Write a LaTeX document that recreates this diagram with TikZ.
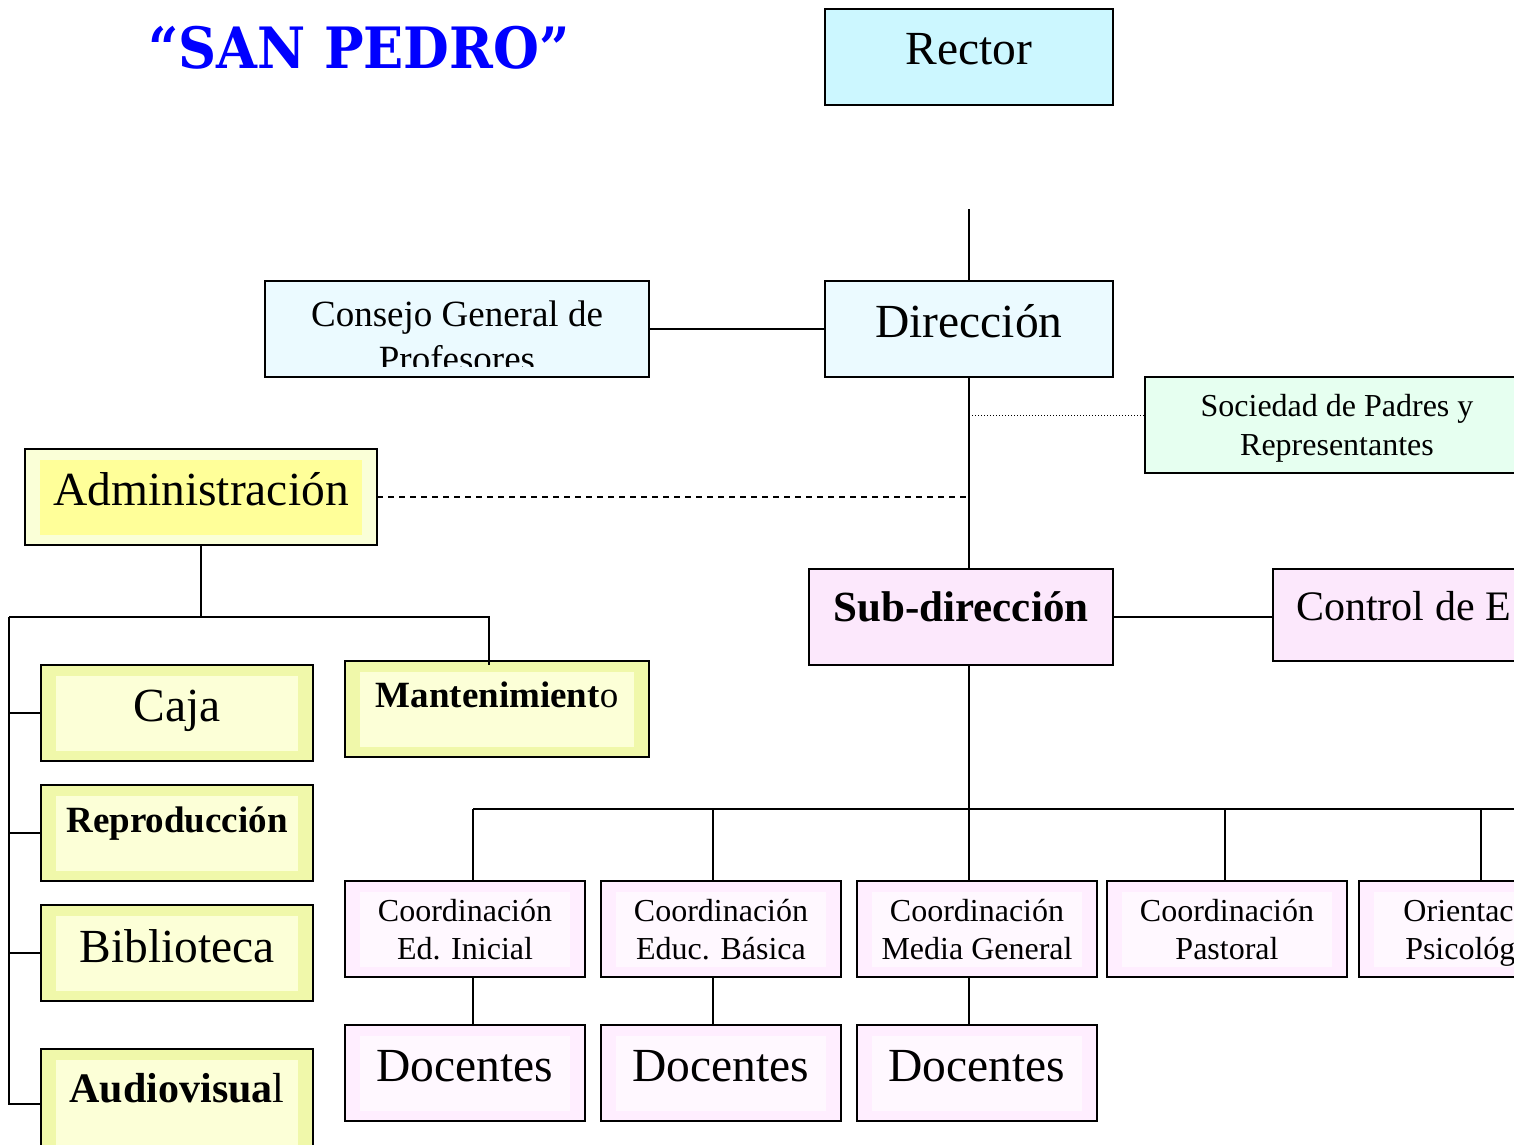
\documentclass[tikz,border=0pt]{standalone}
\usepackage{fontspec}
\setmainfont{Liberation Serif}
\newfontfamily\titlefont{DejaVu Serif}
\usetikzlibrary{calc}
\newcommand\fsz[1]{\fontsize{#1}{#1}\selectfont}
\definecolor{rectorc}{RGB}{204,247,255}
\definecolor{dirc}{RGB}{235,250,255}
\definecolor{socc}{RGB}{230,255,240}
\definecolor{subc}{RGB}{252,232,252}
\definecolor{coordo}{RGB}{255,238,255}
\definecolor{coordi}{RGB}{255,248,255}
\definecolor{admo}{RGB}{250,255,215}
\definecolor{admi}{RGB}{255,255,153}
\definecolor{yelo}{RGB}{240,248,170}
\definecolor{yeli}{RGB}{252,255,215}
\definecolor{titleblue}{RGB}{0,0,255}
\begin{document}
\begin{tikzpicture}[x=1pt,y=-1pt,
  box/.style={draw=black, line width=1.8pt, inner sep=0pt, outer sep=0pt, anchor=north west},
  inset/.style={path picture={\fill[#1] ([shift={(15pt,-11pt)}]path picture bounding box.north west) rectangle ([shift={(-15pt,10pt)}]path picture bounding box.south east);}},
  txt/.style={anchor=base, inner sep=0pt},
  conn/.style={draw=black, line width=1.8pt},
  wide/.style={minimum width=288pt, minimum height=96pt},
  ybox/.style={box, fill=yelo, inset=yeli, minimum width=272pt, minimum height=96pt},
  cbox/.style={box, fill=coordo, inset=coordi, minimum width=240pt, minimum height=96pt}
]
\useasboundingbox (0,0) rectangle (1514,1144);
\clip (0,0) rectangle (1514,1144);
\fill[white] (0,0) rectangle (1514,1144);

% title
\node[txt, text=titleblue, font=\titlefont\bfseries\fsz{57}] (title) at (359,68) {\scalebox{0.925}[1]{“SAN PEDRO”}};

% boxes
\node[box, wide, fill=rectorc] (rector) at (825,9) {};
\node[txt, font=\fsz{47.5}] (rector-t) at (969,64) {Rector};

\node[box, wide, fill=dirc] (dir) at (825,281) {};
\node[txt, font=\fsz{47.5}] (dir-t) at (969,337) {Dirección};

\node[box, fill=dirc, minimum width=384pt, minimum height=96pt] (cons) at (265,281) {};
\begin{scope}
  \clip (265,281) rectangle (649,366);
  \node[txt, font=\fsz{37}] (cons-t1) at (457,326) {Consejo General de};
  \node[txt, font=\fsz{37}] (cons-t2) at (457,371) {Profesores};
\end{scope}

\node[box, fill=socc, minimum width=384pt, minimum height=96pt] (soc) at (1145,377) {};
\node[txt, font=\fsz{32}] (soc-t1) at (1337,416) {Sociedad de Padres y};
\node[txt, font=\fsz{32}] (soc-t2) at (1337,455) {Representantes};

\node[box, fill=admo, inset=admi, minimum width=352pt, minimum height=96pt] (adm) at (25,449) {};
\node[txt, font=\fsz{47.5}] (adm-t) at (201,505) {Administración};

\node[box, fill=subc, minimum width=304pt, minimum height=96pt] (sub) at (809,569) {};
\node[txt, font=\bfseries\fsz{43}] (sub-t) at (961,621) {Sub-dirección};

\node[box, fill=subc, minimum width=304pt, minimum height=92pt] (ctl) at (1273,569) {};
\node[txt, anchor=base west, font=\fsz{42}] (ctl-t) at (1296,620) {Control de E};

% administration branch
\node[ybox] (caja) at (41,665) {};
\node[txt, font=\fsz{47.5}] (caja-t) at (177,721) {Caja};
\node[ybox] (repro) at (41,785) {};
\node[txt, font=\bfseries\fsz{37}] (repro-t) at (177,832) {Reproducción};
\node[ybox] (bib) at (41,905) {};
\node[txt, font=\fsz{47.5}] (bib-t) at (177,962) {Biblioteca};
\node[ybox, minimum height=110pt] (audio) at (41,1049) {};
\node[txt, font=\fsz{42}] (audio-t) at (177,1102) {\textbf{Audiovisua}l};
\node[ybox, minimum width=304pt] (mant) at (345,661) {};
\node[txt, font=\fsz{37}] (mant-t) at (497,707) {\textbf{Mantenimient}o};

% coordination boxes
\node[cbox] (c1) at (345,881) {};
\node[cbox] (c2) at (601,881) {};
\node[cbox] (c3) at (857,881) {};
\node[cbox] (c4) at (1107,881) {};
\node[cbox] (c5) at (1359,881) {};
\node[txt, font=\fsz{32}] (c1-a) at (465,921) {Coordinación};
\node[txt, font=\fsz{32}] (c1-b) at (465,959) {Ed. Inicial};
\node[txt, font=\fsz{32}] (c2-a) at (721,921) {Coordinación};
\node[txt, font=\fsz{32}] (c2-b) at (721,959) {Educ. Básica};
\node[txt, font=\fsz{32}] (c3-a) at (977,921) {Coordinación};
\node[txt, font=\fsz{32}] (c3-b) at (977,959) {Media General};
\node[txt, font=\fsz{32}] (c4-a) at (1227,921) {Coordinación};
\node[txt, font=\fsz{32}] (c4-b) at (1227,959) {Pastoral};
\node[txt, font=\fsz{32}] (c5-a) at (1479,921) {Orientación};
\node[txt, font=\fsz{32}] (c5-b) at (1479,959) {Psicológica};

\node[cbox] (d1) at (345,1025) {};
\node[cbox] (d2) at (601,1025) {};
\node[cbox] (d3) at (857,1025) {};
\node[txt, font=\fsz{47.5}] (d1-t) at (465,1081) {Docentes};
\node[txt, font=\fsz{47.5}] (d2-t) at (721,1081) {Docentes};
\node[txt, font=\fsz{47.5}] (d3-t) at (977,1081) {Docentes};

% connector coordinates
\coordinate (topstub) at (969,209);
\coordinate (dotj) at (969,415);
\coordinate (dashj) at (969,497);
\coordinate (subbot) at (969,665);
\coordinate (bus) at (969,809);
\coordinate (busend) at (1520,809);
\coordinate (admj) at (201,617);
\coordinate (leftj) at (9,617);
\coordinate (mantj) at (489,617);
\coordinate (x1) at (473,0);
\coordinate (x2) at (713,0);
\coordinate (x3) at (969,0);
\coordinate (x4) at (1225,0);
\coordinate (x5) at (1481,0);

% connectors
\draw[conn] (topstub) -- (topstub |- dir.north);
\draw[conn] (cons.east) -- (dir.west);
\draw[conn] (dir.south -| topstub) -- (topstub |- sub.north);
\draw[black, line width=1pt, dotted] (dotj) -- (dotj -| soc.west);
\draw[black, line width=1.4pt, dash pattern=on 6pt off 5pt] (adm.east) -- (dashj);
\draw[conn] (sub.east) -- (sub.east -| ctl.west);

\draw[conn] (adm.south) -- (admj);
\draw[conn] (leftj) -- (mantj) -- ([yshift=-4pt]mantj |- mant.north);
\draw[conn] (leftj) -- (leftj |- audio.west) -- (audio.west);
\draw[conn] (leftj |- caja.west) -- (caja.west);
\draw[conn] (leftj |- repro.west) -- (repro.west);
\draw[conn] (leftj |- bib.west) -- (bib.west);

\draw[conn] (subbot) -- (bus);
\draw[conn] (bus -| x1) -- (busend);
\draw[conn] (bus -| x1) -- (x1 |- c1.north);
\draw[conn] (bus -| x2) -- (x2 |- c2.north);
\draw[conn] (bus) -- (x3 |- c3.north);
\draw[conn] (bus -| x4) -- (x4 |- c4.north);
\draw[conn] (bus -| x5) -- (x5 |- c5.north);
\draw[conn] (x1 |- c1.south) -- (x1 |- d1.north);
\draw[conn] (x2 |- c2.south) -- (x2 |- d2.north);
\draw[conn] (x3 |- c3.south) -- (x3 |- d3.north);
\end{tikzpicture}
\end{document}
